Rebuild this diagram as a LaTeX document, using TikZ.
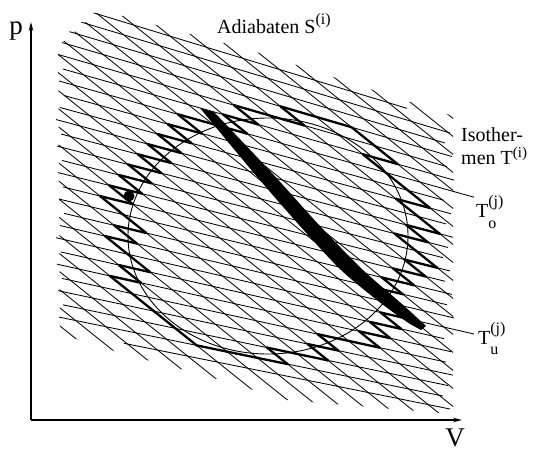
\documentclass[tikz,border=0pt]{standalone}
\usepackage{fontspec}
\setmainfont{Liberation Serif}
\usetikzlibrary{arrows.meta}
\begin{document}
\begin{tikzpicture}[x=1pt,y=-1pt,
  latt/.style={line width=0.85pt},
  zig/.style={line width=2.3pt,line cap=round,line join=round},
  ell/.style={line width=0.9pt},
  axis/.style={line width=1.2pt,-{Stealth[length=9pt,width=4.5pt,inset=3pt]}},
  lbl/.style={font=\fontsize{20}{22}\selectfont, inner sep=0pt, anchor=base west},
  axlbl/.style={font=\fontsize{27}{29}\selectfont, inner sep=0pt, anchor=base}]
\useasboundingbox (0,0) rectangle (536,453);
\def\NI{25}\def\NA{29}
\def\yLz{2}\def\dL{13.12}\def\yRz{123}\def\dR{11.48}
\def\bz{-244}\def\db{18}\def\tA{0.8}
% lattice points
\foreach \i in {0,...,\NI}{
  \pgfmathsetmacro\zyl{\yLz+\i*\dL}
  \pgfmathsetmacro\zyr{\yRz+\i*\dR}
  \pgfmathsetmacro\zs{(\zyr-\zyl)/397}
  \pgfmathsetmacro\za{\zyl-58*\zs}
  \foreach \j in {0,...,\NA}{
    \pgfmathsetmacro\zb{\bz+\j*\db}
    \pgfmathsetmacro\zx{(\zb-\za)/(\zs-\tA)}
    \pgfmathsetmacro\zy{\za+\zs*\zx}
    \coordinate (L-\i-\j) at (\zx,\zy);
  }
}
% inside flags of cells
\foreach \i in {-1,...,\NI}{
  \pgfmathsetmacro\zyl{\yLz+(\i+0.5)*\dL}
  \pgfmathsetmacro\zyr{\yRz+(\i+0.5)*\dR}
  \pgfmathsetmacro\zs{(\zyr-\zyl)/397}
  \pgfmathsetmacro\za{\zyl-58*\zs}
  \foreach \j in {-1,...,\NA}{
    \pgfmathsetmacro\zb{\bz+(\j+0.5)*\db}
    \pgfmathsetmacro\zx{(\zb-\za)/(\zs-\tA)}
    \pgfmathsetmacro\zy{\za+\zs*\zx}
    \pgfmathsetmacro\zq{((\zx-268)/140)^2+((\zy-236)/118)^2}
    \pgfmathtruncatemacro\zin{\zq<1.1}
    \expandafter\xdef\csname zc@\i @\j\endcsname{\zin}
  }
}
% isotherms
\begin{scope}
\clip (56,42) -- (100,8) -- (480,110) -- (480,430) -- (124,360) -- (40,336) -- cycle;
\foreach \i in {0,...,\NI}{
  \pgfmathsetmacro\zyl{\yLz+\i*\dL}
  \pgfmathsetmacro\zyr{\yRz+\i*\dR}
  \pgfmathsetmacro\zs{(\zyr-\zyl)/397}
  \pgfmathsetmacro\zxs{\i==\NI ? 124 : 56+mod(5*\i,9)}
  \pgfmathsetmacro\zxe{\i==0 ? 407 : ((\i==6 || \i==18) ? 474 : 443+mod(7*\i,12))}
  \draw[latt] (\zxs,{\zyl+(\zxs-58)*\zs}) -- (\zxe,{\zyl+(\zxe-58)*\zs});
}
\end{scope}
% adiabats
\begin{scope}
\clip (58,46) -- (100,10) -- (250,50) -- (410,102) -- (453,116) -- (453,414) -- (287,400) -- (200,374) -- (124,354) -- (60,334) -- cycle;
\foreach \j in {0,...,\NA}{
  \pgfmathsetmacro\zb{\bz+\j*\db}
  \draw[latt] (30,{\zb+30*\tA}) -- (480,{\zb+480*\tA});
}
\end{scope}
% ellipse
\draw[ell] (268,236) ellipse [x radius=140pt, y radius=118pt];
% zigzag staircase
\pgfmathtruncatemacro\NIm{\NI-1}
\pgfmathtruncatemacro\NAm{\NA-1}
\foreach \i in {0,...,\NIm}{
  \foreach \j in {0,...,\NAm}{
    \pgfmathtruncatemacro\ip{\i+1}
    \pgfmathtruncatemacro\im{\i-1}
    \pgfmathtruncatemacro\jp{\j+1}
    \pgfmathtruncatemacro\jm{\j-1}
    \if1\csname zc@\i @\j\endcsname
      \if0\csname zc@\im @\j\endcsname \draw[zig] (L-\i-\j) -- (L-\i-\jp); \fi
      \if0\csname zc@\ip @\j\endcsname \draw[zig] (L-\ip-\j) -- (L-\ip-\jp); \fi
      \if0\csname zc@\i @\jm\endcsname \draw[zig] (L-\i-\j) -- (L-\ip-\j); \fi
      \if0\csname zc@\i @\jp\endcsname \draw[zig] (L-\i-\jp) -- (L-\ip-\jp); \fi
    \fi
  }
}
% thick band
\fill[black] plot[smooth] coordinates {(200,108) (253,172) (300,226) (341,270) (382,304) (410,324)}
  -- (421,330) -- plot[smooth] coordinates {(426,326) (402,304) (363,270) (320,226) (271,172) (214,112)} -- cycle;
% dot
\fill (129,196) circle[radius=5.5pt];
% axes
\coordinate (O) at (31,420);
\coordinate (Ytip) at (31,22);
\coordinate (Xtip) at (462,420);
\draw[axis] (O) -- (Ytip);
\draw[axis] (O) -- (Xtip);
% labels
\node[axlbl] (p) at (16,34) {p};
\node[axlbl] (V) at (455,446) {V};
\node[lbl] (adi) at (217,33) {Adiabaten S\raisebox{0.42em}{\fontsize{16}{16}\selectfont(i)}};
\node[lbl] (iso1) at (461,141) {Isother-};
\node[lbl] (iso2) at (461,164) {men T\raisebox{0.32em}{\fontsize{15}{15}\selectfont(i)}};
\node[lbl] (To) at (476,217) {T\rlap{\raisebox{-0.55em}{\fontsize{16}{16}\selectfont o}}\raisebox{0.52em}{\fontsize{16}{16}\selectfont(j)}};
\node[lbl] (Tu) at (478,344) {T\rlap{\raisebox{-0.5em}{\fontsize{16}{16}\selectfont u}}\raisebox{0.55em}{\fontsize{16}{16}\selectfont(j)}};
\end{tikzpicture}
\end{document}
